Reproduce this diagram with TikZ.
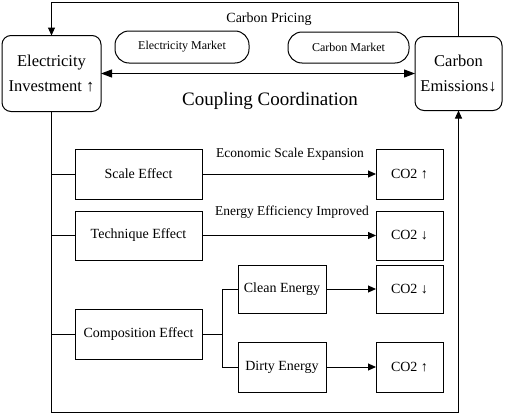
\documentclass[tikz,border=0pt]{standalone}
\usepackage{fontspec}
\setmainfont{Liberation Serif}
\usetikzlibrary{arrows.meta}
\begin{document}
\begin{tikzpicture}[x=1pt,y=-1pt,
  every node/.style={inner sep=0pt,outer sep=0pt},
  box/.style={draw,line width=1pt,align=center,font=\fontsize{14}{16}\selectfont},
  bigbox/.style={draw,line width=1pt,rounded corners=9pt,align=center,font=\fontsize{16.5}{25}\selectfont},
  pill/.style={draw,line width=1pt,rounded corners=14pt,font=\fontsize{12}{14}\selectfont},
  lbl/.style={font=\fontsize{13.5}{15}\selectfont},
  conn/.style={line width=1pt},
  tri/.style={line width=1pt,-{Triangle[length=8pt,width=7pt]}},
  dbl/.style={line width=1pt,{Triangle[length=11pt,width=8pt]}-{Triangle[length=11pt,width=8pt]}}]
\useasboundingbox (0,0) rectangle (505,415);
\node[bigbox,minimum width=99pt,minimum height=76pt] (EI) at (51.5,73.5) {Electricity\\Investment ↑};
\node[bigbox,minimum width=87pt,minimum height=74pt] (CE) at (458.5,73.5) {Carbon\\Emissions↓};
\node[pill,minimum width=134pt,minimum height=32pt] (EM) at (182,47) {Electricity Market};
\node[pill,minimum width=121pt,minimum height=31pt] (CM) at (348.5,47.5) {Carbon Market};
\node[font=\fontsize{14}{16}\selectfont] (CP) at (269,19) {Carbon Pricing};
\node[font=\fontsize{19}{22}\selectfont] (CC) at (270,101) {Coupling Coordination};
\node[box,minimum width=127pt,minimum height=50pt] (SE) at (138.5,174) {Scale Effect};
\node[box,minimum width=67pt,minimum height=50pt] (C1) at (409.5,174) {CO2 ↑};
\node[box,minimum width=127pt,minimum height=49pt] (TE) at (138.5,235.5) {Technique Effect};
\node[box,minimum width=67pt,minimum height=49pt] (C2) at (409.5,235.5) {CO2 ↓};
\node[box,minimum width=88pt,minimum height=48pt] (CL) at (282,289) {Clean Energy};
\node[box,minimum width=67pt,minimum height=48pt] (C3) at (409.5,289) {CO2 ↓};
\node[box,minimum width=127pt,minimum height=50pt] (CO) at (138.5,334) {Composition Effect};
\node[box,minimum width=88pt,minimum height=50pt] (DE) at (282,367) {Dirty Energy};
\node[box,minimum width=67pt,minimum height=50pt] (C4) at (409.5,367) {CO2 ↑};
\node[lbl] (L1) at (290,154) {Economic Scale Expansion};
\node[lbl] (L2) at (292,212) {Energy Efficiency Improved};
\coordinate (topy) at (0,2);
\coordinate (boty) at (0,412);
\coordinate (brx) at (222,0);
\draw[tri] (CE.north) -- (CE.north |- topy) -- (EI.north |- topy) -- (EI.north);
\draw[tri] (EI.south) -- (EI.south |- boty) -- (CE.south |- boty) -- (CE.south);
\draw[dbl] (EI.east) -- (CE.west);
\draw[conn] (SE.west -| EI.south) -- (SE.west);
\draw[conn] (TE.west -| EI.south) -- (TE.west);
\draw[conn] (CO.west -| EI.south) -- (CO.west);
\draw[tri] (SE.east) -- (C1.west);
\draw[tri] (TE.east) -- (C2.west);
\draw[conn] (CO.east) -- (CO.east -| brx);
\draw[conn] (CL.west -| brx) -- (CL.west);
\draw[conn] (DE.west -| brx) -- (DE.west);
\draw[conn] (CL.west -| brx) -- (DE.west -| brx);
\draw[tri] (CL.east) -- (C3.west);
\draw[tri] (DE.east) -- (C4.west);
\end{tikzpicture}
\end{document}
